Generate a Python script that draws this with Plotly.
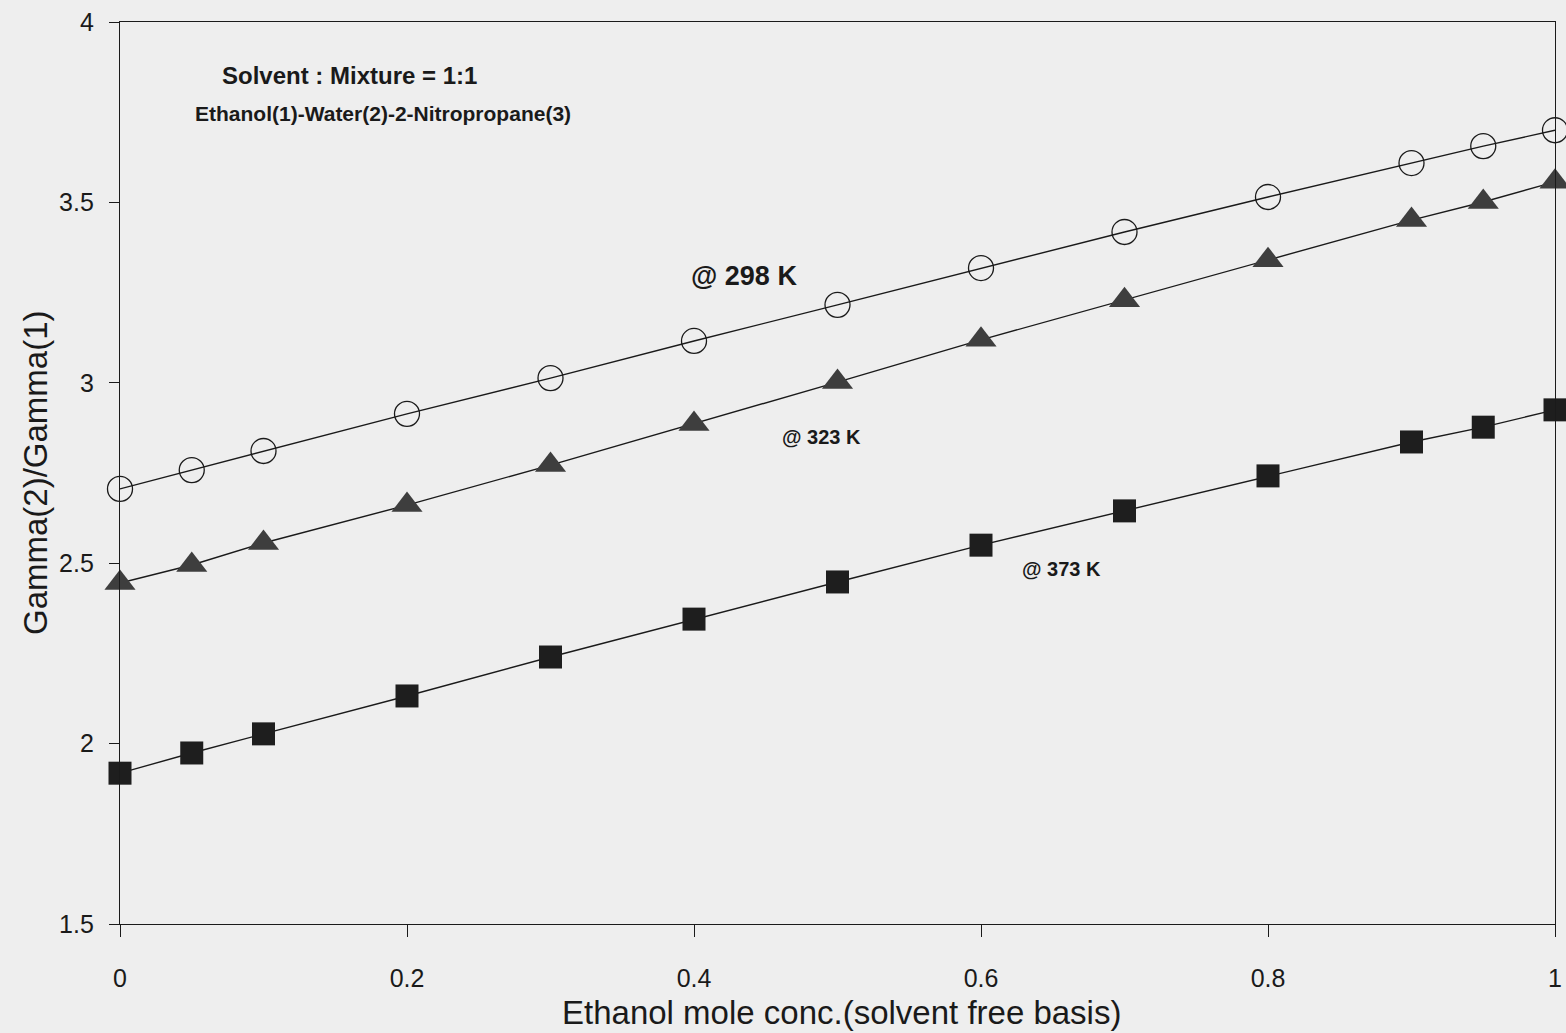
import plotly.graph_objects as go

# Ethanol mole fraction on a solvent-free basis
x_ethanol = [0, 0.05, 0.1, 0.2, 0.3, 0.4, 0.5, 0.6, 0.7, 0.8, 0.9, 0.95, 1.0]

# Gamma(2)/Gamma(1) at three temperatures
ratio_298 = [2.706, 2.758, 2.811, 2.914, 3.013, 3.116, 3.216, 3.318, 3.418, 3.515, 3.609, 3.656, 3.700]
ratio_323 = [2.445, 2.495, 2.556, 2.661, 2.772, 2.886, 3.002, 3.119, 3.229, 3.340, 3.451, 3.501, 3.557]
ratio_373 = [1.918, 1.974, 2.027, 2.132, 2.240, 2.345, 2.448, 2.550, 2.645, 2.742, 2.836, 2.877, 2.925]

x_ticks = [0, 0.2, 0.4, 0.6, 0.8, 1]
x_tick_text = ["0", "0.2", "0.4", "0.6", "0.8", "1"]
y_ticks = [1.5, 2, 2.5, 3, 3.5, 4]
y_tick_text = ["1.5", "2", "2.5", "3", "3.5", "4"]

FONT = "Liberation Sans, Arial, sans-serif"
BG = "#eeeeee"

fig = go.Figure()

fig.add_trace(go.Scatter(
    x=x_ethanol, y=ratio_298, mode="lines+markers", name="298 K",
    line=dict(color="#1a1a1a", width=1.4),
    marker=dict(symbol="circle-open", size=25, color="#1a1a1a", line=dict(width=1.3)),
    cliponaxis=False,
))
fig.add_trace(go.Scatter(
    x=x_ethanol, y=ratio_323, mode="lines+markers", name="323 K",
    line=dict(color="#1a1a1a", width=1.4),
    marker=dict(symbol="triangle-up", size=27, color="#3e3e3e", line=dict(width=0)),
    cliponaxis=False,
))
fig.add_trace(go.Scatter(
    x=x_ethanol, y=ratio_373, mode="lines+markers", name="373 K",
    line=dict(color="#1a1a1a", width=1.4),
    marker=dict(symbol="square", size=23, color="#1e1e1e", line=dict(width=0)),
    cliponaxis=False,
))

annotations = [
    dict(x=0.160, y=3.853, text="<b>Solvent : Mixture = 1:1</b>", font=dict(size=24)),
    dict(x=0.183, y=3.747, text="<b>Ethanol(1)-Water(2)-2-Nitropropane(3)</b>", font=dict(size=21)),
    dict(x=0.435, y=3.295, text="<b>@ 298 K</b>", font=dict(size=27)),
    dict(x=0.489, y=2.85, text="<b>@ 323 K</b>", font=dict(size=20)),
    dict(x=0.656, y=2.483, text="<b>@ 373 K</b>", font=dict(size=20)),
]
for a in annotations:
    a.update(xref="x", yref="y", showarrow=False, xanchor="center", yanchor="middle")
    a["font"].update(family=FONT, color="#1a1a1a")

annotations.append(dict(
    xref="paper", yref="paper", x=0.5025, y=0, yanchor="middle", xanchor="center",
    yshift=-88, showarrow=False, text="Ethanol mole conc.(solvent free basis)",
    font=dict(family=FONT, size=33, color="#1a1a1a"),
))
annotations.append(dict(
    xref="paper", yref="paper", x=0, y=0.5, xanchor="center", yanchor="middle",
    xshift=-85, showarrow=False, textangle=-90, text="Gamma(2)/Gamma(1)",
    font=dict(family=FONT, size=33, color="#1a1a1a"),
))

fig.update_layout(
    width=1566, height=1033,
    margin=dict(l=120, r=11, t=22, b=109),
    paper_bgcolor=BG, plot_bgcolor=BG,
    showlegend=False,
    font=dict(family=FONT, color="#1a1a1a"),
    annotations=annotations,
)

fig.update_xaxes(
    range=[0, 1], tickvals=x_ticks, ticktext=x_tick_text,
    showgrid=False, zeroline=False, automargin=False,
    showline=True, linecolor="#1a1a1a", linewidth=1.4, mirror=True,
    ticks="outside", ticklen=12, tickwidth=1.2, tickcolor="#1a1a1a",
    tickfont=dict(family=FONT, size=25, color="#1a1a1a"),
    ticklabelstandoff=20,
)
fig.update_yaxes(
    range=[1.5, 4], tickvals=y_ticks, ticktext=y_tick_text,
    showgrid=False, zeroline=False, automargin=False,
    showline=True, linecolor="#1a1a1a", linewidth=1.4, mirror=True,
    ticks="outside", ticklen=10, tickwidth=1.2, tickcolor="#1a1a1a",
    tickfont=dict(family=FONT, size=25, color="#1a1a1a"),
    ticklabelstandoff=10,
)

fig.write_html("out.html")
